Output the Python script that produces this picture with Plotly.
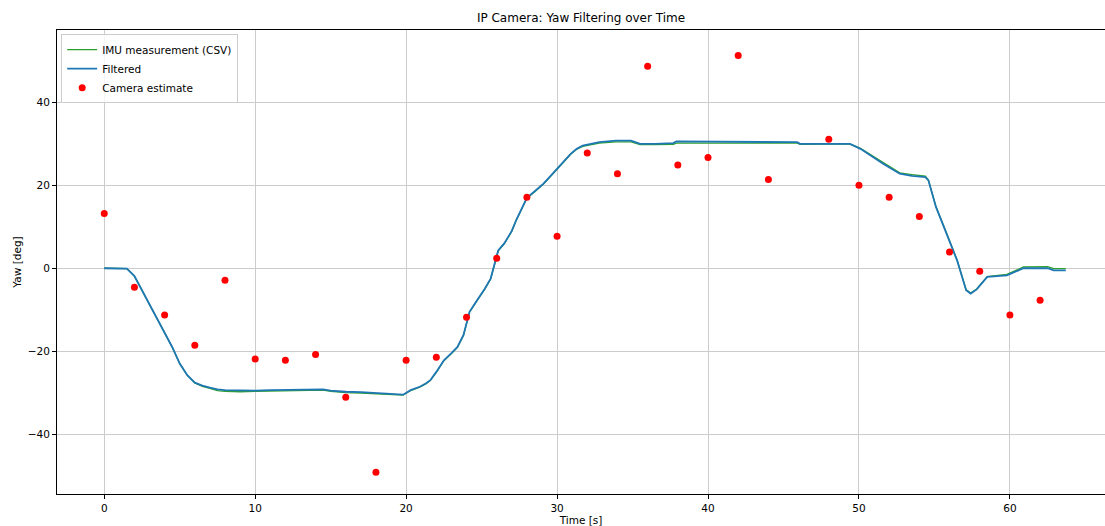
import plotly.graph_objects as go

# ---- data ----
t_line = [0, 1.0, 1.5, 2.0, 2.4, 3.0, 3.5, 4.0, 4.5, 5.0, 5.5, 6.0, 6.5, 7.0, 7.5,
          8.0, 9.0, 10.0, 11.0, 12.0, 13.0, 14.0, 14.5, 15.0, 16.0, 17.0, 18.0, 19.0,
          19.8, 20.3, 20.9, 21.3, 21.6, 22.0, 22.5, 23.0, 23.4, 23.8, 24.2, 24.7, 25.2,
          25.6, 25.9, 26.1, 26.5, 27.0, 27.3, 28.0, 28.5, 29.1, 29.8, 30.2, 30.9, 31.3,
          31.7, 32.8, 33.9, 34.9, 35.5, 36.5, 37.7, 37.9, 40.0, 42.0, 44.0, 45.9, 46.1,
          49.4, 50.1, 51.0, 51.6, 52.7, 53.5, 54.4, 54.6, 55.1, 55.8, 56.5, 57.1, 57.4,
          57.8, 58.5, 59.8, 60.4, 60.9, 62.5, 62.9, 63.7]

yaw_filtered = [0, 0, -0.1, -1.9, -4.6, -8.5, -12.0, -15.5, -19.0, -23.0, -25.8, -27.6, -28.3, -28.8, -29.2,
                -29.4, -29.5, -29.5, -29.4, -29.3, -29.3, -29.2, -29.2, -29.5, -29.8, -29.9, -30.1, -30.3,
                -30.5, -29.4, -28.6, -27.8, -27.0, -25.0, -22.2, -20.5, -19.0, -16.1, -10.5, -7.7, -5.0,
                -2.5, 1.9, 4.3, 6.0, 9.0, 11.7, 17.0, 18.5, 20.4, 23.2, 24.8, 27.6, 28.8,
                29.6, 30.4, 30.8, 30.8, 30.0, 30.0, 30.2, 30.6, 30.5, 30.5, 30.4, 30.4, 30.0,
                30.0, 28.8, 26.6, 25.2, 22.8, 22.3, 22.0, 21.2, 14.8, 8.4, 1.9, -5.3, -6.1,
                -5.1, -2.1, -1.7, -0.8, 0.0, 0.0, -0.5, -0.5]

yaw_imu = [0, 0, -0.1, -1.9, -4.6, -8.5, -12.0, -15.5, -19.0, -23.0, -25.8, -27.7, -28.5, -29.0, -29.5,
           -29.7, -29.8, -29.7, -29.6, -29.5, -29.5, -29.4, -29.4, -29.7, -30.0, -30.1, -30.3, -30.5,
           -30.6, -29.5, -28.7, -27.9, -27.1, -25.1, -22.3, -20.6, -19.1, -16.2, -10.6, -7.8, -5.1,
           -2.6, 1.8, 4.2, 5.9, 8.9, 11.6, 16.9, 18.4, 20.3, 23.1, 24.7, 27.5, 28.7,
           29.4, 30.2, 30.5, 30.5, 29.8, 29.8, 29.9, 30.2, 30.2, 30.3, 30.2, 30.2, 29.9,
           30.0, 28.9, 26.8, 25.4, 23.0, 22.6, 22.2, 21.3, 14.9, 8.5, 2.0, -5.2, -6.0,
           -5.0, -2.0, -1.5, -0.5, 0.3, 0.4, -0.1, -0.1]

t_cam = [0, 2, 4, 6, 8, 10, 12, 14, 16, 18, 20, 22, 24, 26, 28, 30, 32, 34, 36, 38,
         40, 42, 44, 48, 50, 52, 54, 56, 58, 60, 62]
yaw_cam = [13.2, -4.6, -11.3, -18.6, -2.9, -21.9, -22.2, -20.8, -31.1, -49.2, -22.2, -21.5,
           -11.8, 2.4, 17.1, 7.7, 27.8, 22.8, 48.7, 24.9, 26.7, 51.3, 21.4, 31.1, 20.0,
           17.1, 12.5, 3.9, -0.7, -11.3, -7.7]

x_ticks = [0, 10, 20, 30, 40, 50, 60]
y_ticks = [-40, -20, 0, 20, 40]

FONT = "DejaVu Sans"

fig = go.Figure()
fig.add_trace(go.Scatter(x=t_line, y=yaw_imu, mode="lines", name="IMU measurement (CSV)",
                         line=dict(color="#2ca02c", width=1.3)))
fig.add_trace(go.Scatter(x=t_line, y=yaw_filtered, mode="lines", name="Filtered",
                         line=dict(color="#1f77b4", width=1.8)))
fig.add_trace(go.Scatter(x=t_cam, y=yaw_cam, mode="markers", name="Camera estimate",
                         marker=dict(color="#ff0000", size=7, line=dict(width=0))))

axis_common = dict(
    showline=True, linecolor="black", linewidth=1, mirror=True,
    showgrid=True, gridcolor="#cccccc", gridwidth=1.2,
    zeroline=False, ticks="outside", ticklen=4, tickwidth=1, tickcolor="black",
    tickfont=dict(family=FONT, size=10.5, color="black"),
)

fig.update_layout(
    width=1105, height=526,
    margin=dict(l=57, r=0, t=30, b=32),
    paper_bgcolor="white", plot_bgcolor="white",
    font=dict(family=FONT, size=10.5, color="black"),
    title=dict(text="IP Camera: Yaw Filtering over Time", x=0.5, xref="paper",
               xanchor="center", y=1 - 18 / 526, yanchor="middle",
               font=dict(family=FONT, size=12, color="black")),
    xaxis=dict(range=[-3.13, 66.3], tickvals=x_ticks,
               title=dict(text="Time [s]", font=dict(family=FONT, size=10.5), standoff=4),
               **axis_common),
    yaxis=dict(range=[-54.46, 57.47], tickvals=y_ticks,
               title=dict(text="Yaw [deg]", font=dict(family=FONT, size=10.5), standoff=4),
               **axis_common),
    legend=dict(x=0.004, y=0.991, xanchor="left", yanchor="top",
                bgcolor="rgba(255,255,255,0.8)", bordercolor="#cccccc", borderwidth=1,
                font=dict(family=FONT, size=10.5, color="black"),
                tracegroupgap=0, itemwidth=30),
    showlegend=True,
    hovermode=False,
)

fig.write_html("out.html")
